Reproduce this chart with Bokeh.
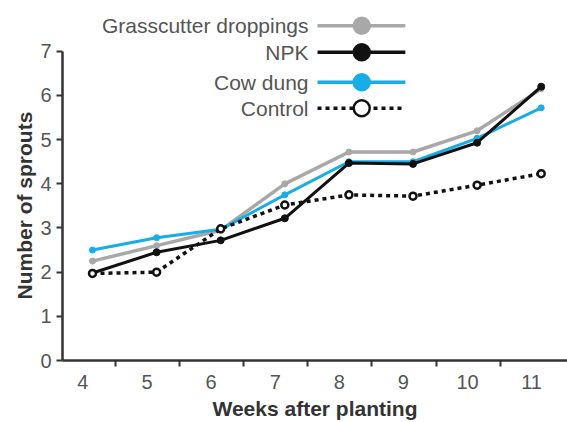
from bokeh.plotting import figure
from bokeh.models import Range1d, FixedTicker, CustomJSTickFormatter, Title
from bokeh.core.properties import value
from bokeh.embed import file_html
from bokeh.resources import INLINE

weeks = [4, 5, 6, 7, 8, 9, 10, 11]
grasscutter = [2.25, 2.6, 2.95, 4.0, 4.72, 4.72, 5.2, 6.15]
npk = [1.98, 2.45, 2.72, 3.22, 4.47, 4.45, 4.93, 6.2]
cow_dung = [2.5, 2.78, 2.97, 3.75, 4.5, 4.5, 5.03, 5.72]
control = [1.97, 2.0, 2.98, 3.52, 3.75, 3.72, 3.97, 4.23]
y_ticks = [0, 1, 2, 3, 4, 5, 6, 7]
series_names = ["Grasscutter droppings", "NPK", "Cow dung", "Control"]

FONT = "Liberation Sans"
GRAY = "#a8a8a8"
BLUE = "#17ade6"
BLACK = "#111111"

# legend layout (in axis units) - positions for the legend block only
LEG_TEXT_X = 7.37
LEG_LINE_X0, LEG_LINE_X1, LEG_MARK_X = 7.51, 8.88, 8.20
LEG_ROWS = [7.58, 6.98, 6.30, 5.71]

p = figure(width=567, height=422, output_backend="svg", toolbar_location=None,
           x_range=Range1d(3.532, 11.41), y_range=Range1d(0, 8.15),
           min_border_left=62, min_border_right=0, min_border_top=0, min_border_bottom=61)
p.outline_line_color = None
p.xgrid.visible = False
p.ygrid.visible = False

p.line(weeks, grasscutter, line_color=GRAY, line_width=3.5)
p.scatter(weeks, grasscutter, size=6, fill_color=GRAY, line_color=GRAY)
p.line(weeks, cow_dung, line_color=BLUE, line_width=3)
p.scatter(weeks, cow_dung, size=6, fill_color=BLUE, line_color=BLUE)
p.line(weeks, npk, line_color=BLACK, line_width=3)
p.scatter(weeks, npk, size=7, fill_color=BLACK, line_color=BLACK)
p.line(weeks, control, line_color=BLACK, line_width=3.5, line_dash="4 4")
p.scatter(weeks, control, size=7, fill_color="white", line_color=BLACK, line_width=2.5)

# legend (label left of the sample, as in the original)
styles = [
    dict(color=GRAY, width=3.5, dash="solid", fill=GRAY),
    dict(color=BLACK, width=3.5, dash="solid", fill=BLACK),
    dict(color=BLUE, width=3.5, dash="solid", fill=BLUE),
    dict(color=BLACK, width=3.5, dash="4 4", fill="white"),
]
for name, yrow, st in zip(series_names, LEG_ROWS, styles):
    p.line([LEG_LINE_X0, LEG_LINE_X1], [yrow, yrow], line_color=st["color"],
           line_width=st["width"], line_dash=st["dash"])
    p.scatter([LEG_MARK_X], [yrow], size=16, fill_color=st["fill"], line_color=st["color"],
              line_width=2.5)
    p.text([LEG_TEXT_X], [yrow], text=[name], text_align="right", text_baseline="middle",
           text_font=value(FONT), text_font_size="21px", text_color="#555555")

# axes
xa = p.xaxis[0]
xa.ticker = FixedTicker(ticks=[w - 0.15 for w in weeks], minor_ticks=[w + 0.36 for w in weeks[:-1]])
xa.formatter = CustomJSTickFormatter(code="return String(Math.round(tick + 0.15));")
xa.major_tick_line_color = None
xa.major_tick_out = 0
xa.major_tick_in = 0
xa.minor_tick_out = 6
xa.minor_tick_in = 0
xa.minor_tick_line_width = 2
xa.minor_tick_line_color = "#333333"
xa.axis_line_width = 2.5
xa.axis_line_color = "#333333"
xa.major_label_standoff = 8
xa.major_label_text_font = FONT
xa.major_label_text_font_size = "20px"
xa.major_label_text_color = "#555555"
xa.axis_label = "Weeks after planting"
xa.axis_label_text_font = FONT
xa.axis_label_text_font_size = "21px"
xa.axis_label_text_font_style = "bold"
xa.axis_label_text_color = "#333333"
xa.axis_label_standoff = 5

ya = p.yaxis[0]
ya.ticker = FixedTicker(ticks=y_ticks, minor_ticks=[])
ya.bounds = (0, 7)
ya.major_tick_out = 6
ya.major_tick_in = 0
ya.major_tick_line_width = 2
ya.major_tick_line_color = "#333333"
ya.minor_tick_line_color = None
ya.axis_line_width = 2.5
ya.axis_line_color = "#333333"
ya.major_label_standoff = 5
ya.major_label_text_font = FONT
ya.major_label_text_font_size = "20px"
ya.major_label_text_color = "#555555"

# y-axis title: starts near the bottom of the 0-7 axis span, as in the original
p.add_layout(Title(text="Number of sprouts", align="left", offset=61, standoff=4,
                   text_font=FONT, text_font_size="21px", text_font_style="bold",
                   text_color="#333333"), "left")

open("out.html", "w").write(file_html(p, INLINE))
